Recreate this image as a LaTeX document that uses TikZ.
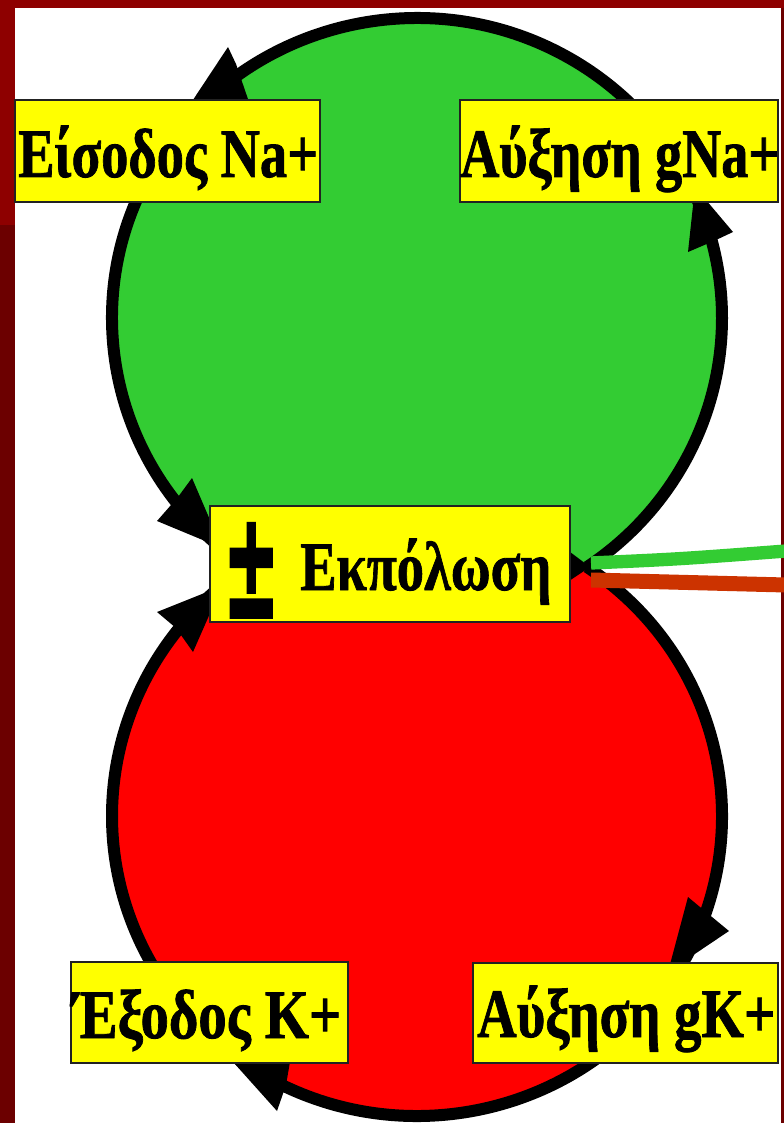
\documentclass[tikz,border=0pt]{standalone}
\usepackage{fontspec}
\setmainfont{Liberation Serif}
\newfontfamily\lblfont[FakeBold=1.2]{Liberation Serif Bold}
\newfontfamily\pmfont[FakeBold=2]{DejaVu Sans Bold}
\usetikzlibrary{fit}
\definecolor{bandtop}{HTML}{8E0000}
\definecolor{bandlow}{HTML}{6C0000}
\definecolor{cgreen}{HTML}{33CC33}
\definecolor{cred}{HTML}{FF0000}
\definecolor{cyell}{HTML}{FFFF00}
\definecolor{cbrown}{HTML}{CC3300}
\definecolor{cline}{HTML}{222222}
\newlength\lblw
\newcommand\fitw[2]{\settowidth\lblw{#2}\scalebox{\fpeval{0.75*#1/(\lblw)}}[1]{#2}}
\tikzset{
  ring/.style={line width=9pt},
  box/.style={draw=cline, fill=cyell, line width=1.2pt, inner sep=0pt},
  lbl/.style={inner sep=0pt, anchor=base west, font=\fontsize{52}{52}\lblfont},
  head/.style={fill=black},
  gline/.style={draw=cgreen, line width=10pt},
  rline/.style={draw=cbrown, line width=11.25pt}
}
\begin{document}
\begin{tikzpicture}[x=0.75pt,y=-0.75pt]
\useasboundingbox (0,0) rectangle (784,1123);
\fill[white] (0,0) rectangle (784,1123);
\fill[bandtop] (0,0) rectangle (784,8);
\fill[bandtop] (0,0) rectangle (15,225);
\fill[bandlow] (0,225) rectangle (15,1123);
\fill[bandlow] (781,8) rectangle (784,1123);
% circles
\coordinate (gc) at (417,318);
\coordinate (rc) at (417,816);
\fill[cred] (rc) ellipse[x radius=305, y radius=300];
\begin{scope}
  \clip (0,0) rectangle (784,567);
  \fill[cgreen] (gc) ellipse[x radius=305, y radius=300];
\end{scope}
\draw[ring] (246.9,567) arc[start angle=123.9, end angle=416.1, x radius=305, y radius=300];
\draw[ring] (587.1,567) arc[start angle=-56.1, end angle=236.1, x radius=305, y radius=300];
\fill[black] (566,549) -- (590,567) -- (566,583) -- cycle;
% side lines
\coordinate (gs) at (591,563);
\coordinate (ge) at (786,551);
\coordinate (rs) at (591,580);
\coordinate (re) at (786,585);
\draw[gline] (gs) .. controls (680,559) .. (ge);
\draw[rline] (rs) -- (re);
% arrowheads
\fill[head] (228,47) -- (236,64) -- (250,105) -- (185,112) -- cycle;
\fill[head] (695,187) -- (733,232) -- (716,240) -- (688,252) -- cycle;
\fill[head] (222,548) -- (157,521) -- (178,497) -- (192,478) -- cycle;
\fill[head] (222,586) -- (157,612) -- (176,628) -- (193,652) -- cycle;
\fill[head] (668,972) -- (688,897) -- (706,912) -- (729,931) -- cycle;
\fill[head] (234,1063) -- (291,1056) -- (286,1085) -- (277,1111) -- cycle;
% boxes
\node[box, fit={(15,100) (320,202)}] (b1) {};
\node[box, fit={(460,100) (778,202)}] (b2) {};
\node[box, fit={(210,506) (570,622)}] (b3) {};
\node[box, fit={(71,962) (348,1063)}] (b4) {};
\node[box, fit={(473,963) (778,1063)}] (b5) {};
% labels
\node[lbl] (t1) at (18,177) {\fitw{300}{Είσοδος Na+}};
\node[lbl] (t2) at (460,177) {\fitw{319}{Αύξηση gNa+}};
\node[lbl] (t3) at (300,590) {\fitw{251}{Εκπόλωση}};
\node[lbl] (t4) at (72,1038) {\fitw{269}{Έξοδος K+}};
\node[lbl] (t5) at (477,1037) {\fitw{298}{Αύξηση gK+}};
\node[anchor=north west, inner sep=0pt] (pm) at (223,523) {\resizebox*{42pt}{70.5pt}{\pmfont ±}};
\end{tikzpicture}
\end{document}
